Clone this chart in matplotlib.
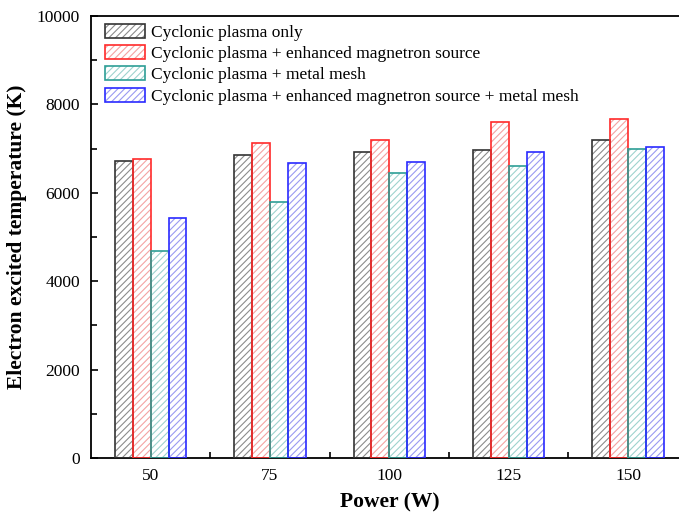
import numpy as np
import matplotlib
matplotlib.use('Agg')
from matplotlib import pyplot as plt
from matplotlib.patches import Patch
from matplotlib.ticker import MultipleLocator

power = [50, 75, 100, 125, 150]
only = [6715, 6853, 6928, 6973, 7186]
magnetron = [6770, 7131, 7200, 7607, 7675]
mesh = [4673, 5782, 6452, 6599, 6996]
both = [5434, 6665, 6694, 6916, 7034]

labels = ['Cyclonic plasma only',
          'Cyclonic plasma + enhanced magnetron source',
          'Cyclonic plasma + metal mesh',
          'Cyclonic plasma + enhanced magnetron source + metal mesh']
edge_colors = ['#333333', '#FF2A2A', '#2E9E96', '#2A2AFF']
hatch_colors = ['#8C8C8C', '#F4A3A3', '#9ED3CE', '#9A9AF2']

plt.rcParams['font.family'] = ['Liberation Serif', 'DejaVu Serif']
plt.rcParams['hatch.linewidth'] = 0.8

fig = plt.figure(figsize=(6.79, 5.13), dpi=100)
ax = fig.add_axes([0.1340, 0.1072, 0.8788, 0.8616])

x = np.array(power, dtype=float)
w = 3.75
handles = []
for i, vals in enumerate([only, magnetron, mesh, both]):
    pos = x + (i - 1.5) * w
    # hatch layer in a light colour, then the outline on top
    ax.bar(pos, vals, width=w, color='none', edgecolor=hatch_colors[i],
           hatch='/////', linewidth=0, zorder=2)
    ax.bar(pos, vals, width=w, color='none', edgecolor=edge_colors[i],
           linewidth=1.2, zorder=3)
    h1 = Patch(facecolor='none', edgecolor=hatch_colors[i], hatch='/////', linewidth=0)
    h2 = Patch(facecolor='none', edgecolor=edge_colors[i], linewidth=1.2)
    handles.append((h1, h2))

ax.set_xlim(37.5, 162.5)
ax.set_ylim(0, 10000)
ax.set_xticks(power)
ax.set_xticks([62.5, 87.5, 112.5, 137.5], minor=True)
ax.yaxis.set_major_locator(MultipleLocator(2000))
ax.yaxis.set_minor_locator(MultipleLocator(1000))
ax.tick_params(which='both', direction='in', labelsize=12.5, width=1.2)
ax.tick_params(which='major', length=5)
ax.tick_params(which='minor', length=4)
ax.tick_params(axis='x', pad=7)
ax.tick_params(axis='y', pad=8)
ax.tick_params(top=False, right=False, which='both')
for s in ax.spines.values():
    s.set_linewidth(1.3)

ax.set_xlabel('Power (W)', fontsize=15.5, fontweight='bold', labelpad=6)
ax.set_ylabel('Electron excited temperature (K)', fontsize=15.5, fontweight='bold', labelpad=7)

ax.legend(handles, labels, loc='upper left', frameon=False, fontsize=12.5,
          handlelength=2.3, handleheight=0.85, handletextpad=0.3,
          labelspacing=0.25, borderaxespad=0.05, borderpad=0.2,
          bbox_to_anchor=(0.017, 0.992))

plt.savefig('out.png', dpi=100)
